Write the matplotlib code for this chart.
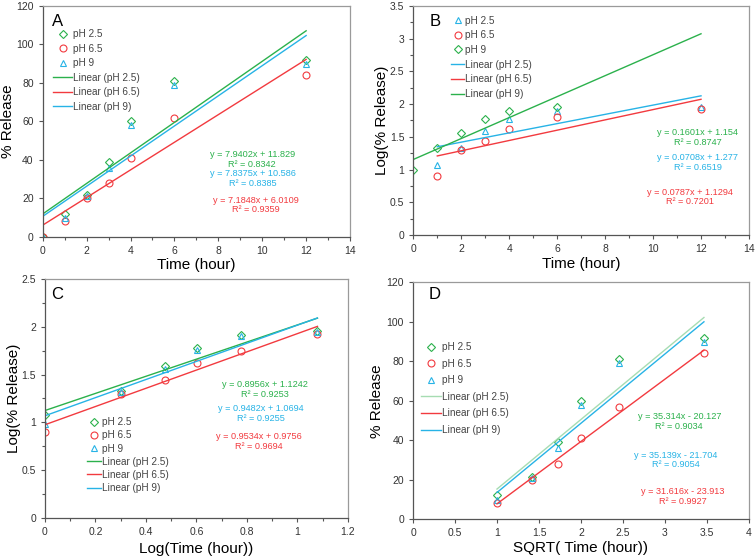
import numpy as np
import matplotlib
matplotlib.use('Agg')
from matplotlib import pyplot as plt
from matplotlib.lines import Line2D
from matplotlib.ticker import MultipleLocator

plt.rcParams['font.family'] = ['Liberation Sans', 'DejaVu Sans']

GREEN = '#2bb14c'
RED = '#f23a3f'
BLUE = '#27b3e6'
PALE_GREEN = '#a6dcb2'

# sampling times (hour)
time_h = [0, 1, 2, 3, 4, 6, 12]
log_time = [0, 0.301, 0.477, 0.602, 0.778, 1.079]
sqrt_time = [1, 1.414, 1.732, 2, 2.449, 3.464]

# panel A : % release vs time
a_ph25 = [0, 12, 21.5, 39, 60, 81, 92]
a_ph65 = [0, 8, 20, 28, 41, 62, 84]
a_ph9 = [0, 9.5, 21, 36, 58, 79, 90]
a_fit = {'pH 2.5': (7.9402, 11.829, 0.8342),
         'pH 6.5': (7.1848, 6.0109, 0.9359),
         'pH 9': (7.8375, 10.586, 0.8385)}

# panel B : log(% release) vs time
b_time_ph9 = [0, 1, 2, 3, 4, 6]
b_ph25 = [1.07, 1.33, 1.59, 1.78, 1.90, 1.96]
b_ph65 = [0.90, 1.30, 1.44, 1.62, 1.80, 1.92]
b_ph9 = [1.0, 1.33, 1.56, 1.77, 1.90, 1.95]
b_fit = {'pH 2.5': (0.0708, 1.277, 0.6519),
         'pH 6.5': (0.0787, 1.1294, 0.7201),
         'pH 9': (0.1601, 1.154, 0.8747)}

# panel C : log(% release) vs log(time)
c_ph25 = [1.08, 1.33, 1.59, 1.78, 1.91, 1.96]
c_ph65 = [0.90, 1.30, 1.44, 1.62, 1.75, 1.92]
c_ph9 = [0.98, 1.32, 1.56, 1.76, 1.90, 1.95]
c_fit = {'pH 2.5': (0.8956, 1.1242, 0.9253),
         'pH 6.5': (0.9534, 0.9756, 0.9694),
         'pH 9': (0.9482, 1.0694, 0.9255)}

# panel D : % release vs sqrt(time)
d_ph25 = [12, 21.5, 39, 60, 81, 92]
d_ph65 = [8, 20, 28, 41, 57, 84]
d_ph9 = [9.5, 21, 36, 58, 79, 90]
d_fit = {'pH 2.5': (35.314, -20.127, 0.9034),
         'pH 6.5': (31.616, -23.913, 0.9927),
         'pH 9': (35.139, -21.704, 0.9054)}

MARKERS = {'D': dict(marker='D', ms=3.6), 'o': dict(marker='o', ms=5), '^': dict(marker='^', ms=4.6)}


def eq_text(slope, icpt, r2):
  sign = '+' if icpt >= 0 else '-'
  return "y = {}x {} {}\nR² = {}".format(slope, sign, abs(icpt), r2)


def style_axes(ax, xlim, xmaj, xmin, ylim, ymaj, ymin):
  ax.set_xlim(*xlim)
  ax.set_ylim(*ylim)
  ax.xaxis.set_major_locator(MultipleLocator(xmaj))
  ax.yaxis.set_major_locator(MultipleLocator(ymaj))
  if xmin:
    ax.xaxis.set_minor_locator(MultipleLocator(xmin))
  if ymin:
    ax.yaxis.set_minor_locator(MultipleLocator(ymin))
  ax.tick_params(which='both', direction='out', labelsize=7.5, colors='#555555',
                 labelcolor='#333333', width=0.8)
  ax.tick_params(which='major', length=3)
  ax.tick_params(which='minor', length=2.5)
  for s in ['left', 'bottom']:
    ax.spines[s].set_color('#555555')
  for s in ['top', 'right']:
    ax.spines[s].set_color('#9a9a9a')
  for s in ax.spines.values():
    s.set_linewidth(0.9)
  ax.xaxis.set_major_formatter(plt.FuncFormatter(lambda v, p: '{:g}'.format(round(v, 3))))
  ax.yaxis.set_major_formatter(plt.FuncFormatter(lambda v, p: '{:g}'.format(round(v, 3))))


def scatter(ax, x, y, color, mk):
  ax.plot(x, y, linestyle='none', color=color, mfc='none', mew=0.8, **MARKERS[mk])


def fit_line(ax, x0, x1, coef, color):
  xs = np.array([x0, x1])
  ax.plot(xs, coef[0] * xs + coef[1], color=color, lw=1.0)


def add_legend(ax, entries, anchor, hlen, lspace):
  handles = []
  labels = []
  for lab, color, mk in entries:
    if mk:
      handles.append(Line2D([], [], linestyle='none', color=color, mfc='none', mew=0.8,
                            **MARKERS[mk]))
    else:
      handles.append(Line2D([], [], color=color, lw=1.0))
    labels.append(lab)
  leg = ax.legend(handles, labels, loc='upper left', bbox_to_anchor=anchor, frameon=False,
                  fontsize=7.2, handlelength=hlen, handletextpad=0.1, labelspacing=lspace,
                  borderpad=0, borderaxespad=0, numpoints=1)
  for t in leg.get_texts():
    t.set_color('#444444')


def add_eqs(ax, items):
  for (x, y, coef, color) in items:
    ax.text(x, y, eq_text(*coef), color=color, fontsize=6.6, ha='center', va='center',
            linespacing=1.12)


def labels(ax, letter, letter_xy, xlabel, ylabel, xlab_y, ylab_x):
  ax.text(letter_xy[0], letter_xy[1], letter, transform=ax.transAxes, fontsize=12,
          ha='center', va='center')
  ax.set_xlabel(xlabel, fontsize=11)
  ax.set_ylabel(ylabel, fontsize=11)
  ax.xaxis.set_label_coords(0.5, xlab_y)
  ax.yaxis.set_label_coords(ylab_x, 0.5)


fig = plt.figure(figsize=(7.56, 5.58), dpi=100)
ax_a = fig.add_axes([0.0565, 0.5758, 0.4065, 0.4134])
ax_b = fig.add_axes([0.5467, 0.5789, 0.4440, 0.4104])
ax_c = fig.add_axes([0.0595, 0.0717, 0.4008, 0.4283])
ax_d = fig.add_axes([0.5463, 0.0699, 0.4444, 0.4240])

# A
ax = ax_a
style_axes(ax, (0, 14), 2, 1, (0, 120), 20, None)
scatter(ax, time_h, a_ph25, GREEN, 'D')
scatter(ax, time_h, a_ph65, RED, 'o')
scatter(ax, time_h, a_ph9, BLUE, '^')
fit_line(ax, 0, 12, a_fit['pH 2.5'], GREEN)
fit_line(ax, 0, 12, a_fit['pH 6.5'], RED)
fit_line(ax, 0, 12, a_fit['pH 9'], BLUE)
add_legend(ax, [('pH 2.5', GREEN, 'D'), ('pH 6.5', RED, 'o'), ('pH 9', BLUE, '^'),
                ('Linear (pH 2.5)', GREEN, None), ('Linear (pH 6.5)', RED, None),
                ('Linear (pH 9)', BLUE, None)], (0.034, 0.90), 1.9, 0.45)
add_eqs(ax, [(9.54, 40.2, a_fit['pH 2.5'], GREEN), (9.58, 30.3, a_fit['pH 9'], BLUE),
             (9.72, 16.5, a_fit['pH 6.5'], RED)])
labels(ax, 'A', (0.047, 0.935), 'Time (hour)', '% Release', -0.092, -0.09)

# B
ax = ax_b
style_axes(ax, (0, 14), 2, 1, (0, 3.5), 0.5, 0.25)
scatter(ax, time_h[1:], b_ph25, BLUE, '^')
scatter(ax, time_h[1:], b_ph65, RED, 'o')
scatter(ax, b_time_ph9, b_ph9, GREEN, 'D')
fit_line(ax, 1, 12, b_fit['pH 2.5'], BLUE)
fit_line(ax, 1, 12, b_fit['pH 6.5'], RED)
fit_line(ax, 0, 12, b_fit['pH 9'], GREEN)
add_legend(ax, [('pH 2.5', BLUE, '^'), ('pH 6.5', RED, 'o'), ('pH 9', GREEN, 'D'),
                ('Linear (pH 2.5)', BLUE, None), ('Linear (pH 6.5)', RED, None),
                ('Linear (pH 9)', GREEN, None)], (0.112, 0.958), 1.34, 0.47)
add_eqs(ax, [(11.87, 1.49, b_fit['pH 9'], GREEN), (11.86, 1.108, b_fit['pH 2.5'], BLUE),
             (11.53, 0.58, b_fit['pH 6.5'], RED)])
labels(ax, 'B', (0.065, 0.934), 'Time (hour)', 'Log(% Release)', -0.096, -0.072)

# C
ax = ax_c
style_axes(ax, (0, 1.2), 0.2, 0.1, (0, 2.5), 0.5, 0.25)
scatter(ax, log_time, c_ph25, GREEN, 'D')
scatter(ax, log_time, c_ph65, RED, 'o')
scatter(ax, log_time, c_ph9, BLUE, '^')
fit_line(ax, 0, log_time[-1], c_fit['pH 2.5'], GREEN)
fit_line(ax, 0, log_time[-1], c_fit['pH 6.5'], RED)
fit_line(ax, 0, log_time[-1], c_fit['pH 9'], BLUE)
add_legend(ax, [('pH 2.5', GREEN, 'D'), ('pH 6.5', RED, 'o'), ('pH 9', BLUE, '^'),
                ('Linear (pH 2.5)', GREEN, None), ('Linear (pH 6.5)', RED, None),
                ('Linear (pH 9)', BLUE, None)], (0.139, 0.422), 1.44, 0.32)
add_eqs(ax, [(0.871, 1.34, c_fit['pH 2.5'], GREEN), (0.854, 1.09, c_fit['pH 9'], BLUE),
             (0.846, 0.80, c_fit['pH 6.5'], RED)])
labels(ax, 'C', (0.040, 0.937), 'Log(Time (hour))', 'Log(% Release)', -0.100, -0.078)

# D
ax = ax_d
style_axes(ax, (0, 4), 0.5, None, (0, 120), 20, None)
scatter(ax, sqrt_time, d_ph25, GREEN, 'D')
scatter(ax, sqrt_time, d_ph65, RED, 'o')
scatter(ax, sqrt_time, d_ph9, BLUE, '^')
fit_line(ax, 1, sqrt_time[-1], d_fit['pH 2.5'], PALE_GREEN)
fit_line(ax, 1, sqrt_time[-1], d_fit['pH 6.5'], RED)
fit_line(ax, 1, sqrt_time[-1], d_fit['pH 9'], BLUE)
add_legend(ax, [('pH 2.5', GREEN, 'D'), ('pH 6.5', RED, 'o'), ('pH 9', BLUE, '^'),
                ('Linear (pH 2.5)', PALE_GREEN, None), ('Linear (pH 6.5)', RED, None),
                ('Linear (pH 9)', BLUE, None)], (0.024, 0.748), 1.95, 0.66)
add_eqs(ax, [(3.17, 49.4, d_fit['pH 2.5'], GREEN), (3.13, 29.9, d_fit['pH 9'], BLUE),
             (3.21, 11.6, d_fit['pH 6.5'], RED)])
labels(ax, 'D', (0.065, 0.947), 'SQRT( Time (hour))', '% Release', -0.093, -0.087)

fig.savefig('out.png', dpi=100)
